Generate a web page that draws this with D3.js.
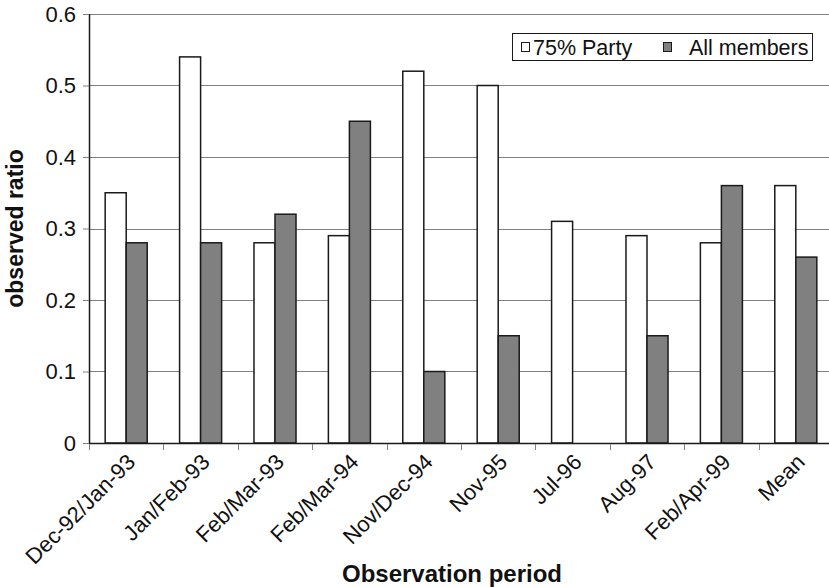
<!DOCTYPE html>
<html>
<head>
<meta charset="utf-8">
<script src="https://cdn.jsdelivr.net/npm/d3@7/dist/d3.min.js"></script>
<style>
  html, body { margin: 0; padding: 0; background: #fff; }
  svg { display: block; font-family: "Liberation Sans", Arial, sans-serif; }
</style>
</head>
<body>
<svg id="chart" width="829" height="587"></svg>
<script>
  // données
  const periods = ['Dec-92/Jan-93', 'Jan/Feb-93', 'Feb/Mar-93', 'Feb/Mar-94', 'Nov/Dec-94',
                   'Nov-95', 'Jul-96', 'Aug-97', 'Feb/Apr-99', 'Mean'];
  const party75 = [0.35, 0.54, 0.28, 0.29, 0.52, 0.50, 0.31, 0.29, 0.28, 0.36];
  const allMembers = [0.28, 0.28, 0.32, 0.45, 0.10, 0.15, 0, 0.15, 0.36, 0.26];
  const seriesNames = ['75% Party', 'All members'];
  const seriesFill = ['#ffffff', '#808080'];
  const yTicks = [0, 0.1, 0.2, 0.3, 0.4, 0.5, 0.6];

  const M = { left: 89, top: 14 };
  const W = 744, H = 429;

  const svg = d3.select('#chart');
  const g = svg.append('g').attr('transform', `translate(${M.left},${M.top})`);

  const x0 = d3.scaleBand().domain(periods).range([0, W]).padding(0);
  const x1 = d3.scaleBand().domain(seriesNames).range([0, x0.bandwidth()])
    .paddingInner(0).paddingOuter(0.77);
  const y = d3.scaleLinear().domain([0, 0.6]).range([H, 0]);

  // grille horizontale
  g.append('g').selectAll('line').data(yTicks.filter((t) => t > 0)).join('line')
    .attr('x1', 0).attr('x2', W + 10)
    .attr('y1', (d) => Math.round(y(d)) + 0.5).attr('y2', (d) => Math.round(y(d)) + 0.5)
    .attr('stroke', '#808080').attr('stroke-width', 1);

  // barres
  const rows = periods.map((p, i) => ({ p, vals: [party75[i], allMembers[i]] }));
  const grp = g.append('g').selectAll('g').data(rows).join('g')
    .attr('transform', (d) => `translate(${x0(d.p)},0)`);
  grp.selectAll('rect')
    .data((d) => d.vals.map((v, k) => ({ k, v })).filter((e) => e.v > 0))
    .join('rect')
    .attr('x', (e) => x1(seriesNames[e.k]))
    .attr('y', (e) => y(e.v))
    .attr('width', x1.bandwidth())
    .attr('height', (e) => H - y(e.v))
    .attr('fill', (e) => seriesFill[e.k])
    .attr('stroke', '#1a1a1a').attr('stroke-width', 1.5);

  // axe Y
  const yAxis = g.append('g').call(d3.axisLeft(y).tickValues(yTicks).tickSize(6).tickPadding(7)
    .tickFormat((d) => d === 0 ? '0' : d3.format('.1f')(d)));
  yAxis.select('.domain').attr('stroke', '#1a1a1a').attr('stroke-width', 1.5).attr('d', `M0.5,0V${H}`);
  yAxis.selectAll('.tick line').attr('stroke', '#808080');
  yAxis.selectAll('.tick text').attr('font-size', 22).attr('fill', '#111')
    .attr('font-family', '"Liberation Sans", Arial, sans-serif');

  // axe X
  const xAxis = g.append('g').attr('transform', `translate(0,${H})`);
  xAxis.append('line').attr('x1', 0).attr('x2', W + 10).attr('y1', 0.5).attr('y2', 0.5)
    .attr('stroke', '#1a1a1a').attr('stroke-width', 1.5);
  xAxis.selectAll('line.tk').data(periods).join('line').attr('class', 'tk')
    .attr('x1', (d) => Math.round(x0(d)) + 0.5).attr('x2', (d) => Math.round(x0(d)) + 0.5)
    .attr('y1', 1).attr('y2', 7).attr('stroke', '#808080');
  xAxis.selectAll('text').data(periods).join('text')
    .attr('transform', (d) => `translate(${x0(d) + x0.bandwidth() / 2 + 5},${15}) rotate(-45)`)
    .attr('text-anchor', 'end').attr('dy', '0.35em')
    .attr('font-size', 22).attr('fill', '#111')
    .text((d) => d);

  // titres des axes
  svg.append('text')
    .attr('transform', `translate(23,${M.top + H / 2}) rotate(-90)`)
    .attr('text-anchor', 'middle').attr('font-weight', 'bold').attr('font-size', 23).attr('fill', '#111')
    .text('observed ratio');
  svg.append('text')
    .attr('x', 452).attr('y', 582)
    .attr('text-anchor', 'middle').attr('font-weight', 'bold').attr('font-size', 24).attr('fill', '#111')
    .text('Observation period');

  // légende
  const lg = svg.append('g');
  lg.append('rect').attr('x', 512.5).attr('y', 33.5).attr('width', 300).attr('height', 27)
    .attr('fill', '#fff').attr('stroke', '#1a1a1a').attr('stroke-width', 1);
  const lx = [521, 663];
  const tx = [533, 689];
  seriesNames.forEach((nm, k) => {
    lg.append('rect').attr('x', lx[k] + 0.5).attr('y', 42.5).attr('width', 8).attr('height', 9)
      .attr('fill', seriesFill[k]).attr('stroke', '#1a1a1a').attr('stroke-width', 1);
    lg.append('text').attr('x', tx[k]).attr('y', 55).attr('font-size', 21.5).attr('fill', '#111').text(nm);
  });
</script>
</body>
</html>
